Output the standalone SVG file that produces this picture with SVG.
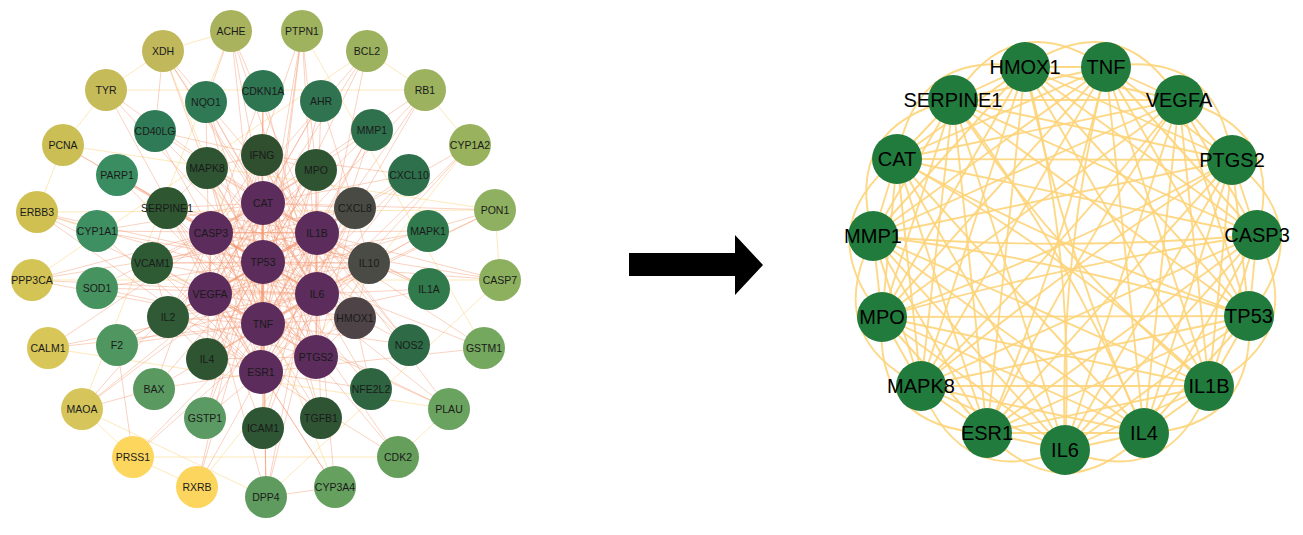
<svg xmlns="http://www.w3.org/2000/svg" width="1303" height="535" viewBox="0 0 1303 535">
<style>
.e{stroke:#f59c76;stroke-opacity:.45;stroke-width:1;fill:none}
.y{stroke:#fcd98c;stroke-opacity:.6;stroke-width:1;fill:none}
.r{stroke:#fdd47a;stroke-opacity:.9;stroke-width:1.9;fill:none}
.lt{font-family:"Liberation Sans",Arial,sans-serif;font-size:10.5px;fill:#1a1a1a;text-anchor:middle}
.rt{font-family:"Liberation Sans",Arial,sans-serif;font-size:20px;fill:#000;text-anchor:middle}
.rn{fill:#217b3d}
.pu{fill:#5b2c5c}
.dg{fill:#2f5432}
</style>
<rect width="1303" height="535" fill="#fff"/>
<g id="connectors-left">
<path class="y" d="M163 51L231 31"/><path class="y" d="M163 51L106 90"/><path class="y" d="M106 90L63 145"/><path class="y" d="M63 145L37 212"/><path class="y" d="M367 51L425 90"/><path class="y" d="M425 90L470 145"/><path class="y" d="M495 210L500 280"/><path class="y" d="M37 212L97 231"/><path class="y" d="M82 409L133 457"/><path class="y" d="M133 457L197 487"/><path class="y" d="M398 457L449 409"/><path class="y" d="M82 409L266 497"/><path class="y" d="M63 145L495 210"/><path class="y" d="M37 212L495 210"/><path class="y" d="M32 280L500 280"/><path class="y" d="M106 90L425 90"/><path class="y" d="M48 348L449 409"/><path class="y" d="M133 457L398 457"/><path class="y" d="M197 487L470 145"/><path class="y" d="M302 31L484 348"/><path class="y" d="M231 31L82 409"/><path class="y" d="M367 51L32 280"/><path class="y" d="M163 51L335 487"/><path class="y" d="M500 280L266 497"/>
<path class="e" d="M263 203L317 233"/><path class="e" d="M263 203L317 294"/><path class="e" d="M263 203L263 324"/><path class="e" d="M263 203L210 294"/><path class="e" d="M263 203L211 233"/><path class="e" d="M263 203L263 262"/><path class="e" d="M263 203L316 357"/><path class="e" d="M263 203L261 372"/>
<path class="e" d="M317 233L317 294"/><path class="e" d="M317 233L263 324"/><path class="e" d="M317 233L210 294"/><path class="e" d="M317 233L211 233"/><path class="e" d="M317 233L263 262"/><path class="e" d="M317 233L316 357"/><path class="e" d="M317 233L261 372"/>
<path class="e" d="M317 294L263 324"/><path class="e" d="M317 294L210 294"/><path class="e" d="M317 294L211 233"/><path class="e" d="M317 294L263 262"/><path class="e" d="M317 294L316 357"/><path class="e" d="M317 294L261 372"/>
<path class="e" d="M263 324L210 294"/><path class="e" d="M263 324L211 233"/><path class="e" d="M263 324L263 262"/><path class="e" d="M263 324L316 357"/><path class="e" d="M263 324L261 372"/>
<path class="e" d="M210 294L211 233"/><path class="e" d="M210 294L263 262"/><path class="e" d="M210 294L316 357"/><path class="e" d="M210 294L261 372"/>
<path class="e" d="M211 233L263 262"/><path class="e" d="M211 233L316 357"/><path class="e" d="M211 233L261 372"/><path class="e" d="M263 262L316 357"/><path class="e" d="M263 262L261 372"/><path class="e" d="M316 357L261 372"/>
<path class="e" d="M262 155L317 233"/><path class="e" d="M262 155L317 294"/><path class="e" d="M262 155L263 324"/><path class="e" d="M262 155L210 294"/><path class="e" d="M262 155L211 233"/><path class="e" d="M262 155L316 357"/><path class="e" d="M262 155L261 372"/>
<path class="e" d="M316 170L263 203"/><path class="e" d="M316 170L317 294"/><path class="e" d="M316 170L263 324"/><path class="e" d="M316 170L210 294"/><path class="e" d="M316 170L211 233"/><path class="e" d="M316 170L263 262"/><path class="e" d="M316 170L316 357"/><path class="e" d="M316 170L261 372"/>
<path class="e" d="M355 208L263 203"/><path class="e" d="M355 208L317 294"/><path class="e" d="M355 208L263 324"/><path class="e" d="M355 208L210 294"/><path class="e" d="M355 208L211 233"/><path class="e" d="M355 208L263 262"/><path class="e" d="M355 208L316 357"/><path class="e" d="M355 208L261 372"/>
<path class="e" d="M369 263L263 203"/><path class="e" d="M369 263L317 233"/><path class="e" d="M369 263L263 324"/><path class="e" d="M369 263L210 294"/><path class="e" d="M369 263L211 233"/><path class="e" d="M369 263L263 262"/><path class="e" d="M369 263L316 357"/><path class="e" d="M369 263L261 372"/>
<path class="e" d="M355 318L263 203"/><path class="e" d="M355 318L317 233"/><path class="e" d="M355 318L263 324"/><path class="e" d="M355 318L210 294"/><path class="e" d="M355 318L211 233"/><path class="e" d="M355 318L263 262"/><path class="e" d="M355 318L261 372"/>
<path class="e" d="M207 359L263 203"/><path class="e" d="M207 359L317 233"/><path class="e" d="M207 359L317 294"/><path class="e" d="M207 359L263 324"/><path class="e" d="M207 359L211 233"/><path class="e" d="M207 359L263 262"/><path class="e" d="M207 359L316 357"/>
<path class="e" d="M168 317L263 203"/><path class="e" d="M168 317L317 233"/><path class="e" d="M168 317L317 294"/><path class="e" d="M168 317L263 324"/><path class="e" d="M168 317L211 233"/><path class="e" d="M168 317L263 262"/><path class="e" d="M168 317L316 357"/><path class="e" d="M168 317L261 372"/>
<path class="e" d="M152 263L263 203"/><path class="e" d="M152 263L317 233"/><path class="e" d="M152 263L317 294"/><path class="e" d="M152 263L263 324"/><path class="e" d="M152 263L263 262"/><path class="e" d="M152 263L316 357"/><path class="e" d="M152 263L261 372"/>
<path class="e" d="M167 208L263 203"/><path class="e" d="M167 208L317 233"/><path class="e" d="M167 208L317 294"/><path class="e" d="M167 208L263 324"/><path class="e" d="M167 208L210 294"/><path class="e" d="M167 208L263 262"/><path class="e" d="M167 208L316 357"/><path class="e" d="M167 208L261 372"/>
<path class="e" d="M207 168L263 203"/><path class="e" d="M207 168L317 233"/><path class="e" d="M207 168L317 294"/><path class="e" d="M207 168L263 324"/><path class="e" d="M207 168L210 294"/><path class="e" d="M207 168L263 262"/><path class="e" d="M207 168L316 357"/><path class="e" d="M207 168L261 372"/>
<path class="e" d="M262 155L316 170"/><path class="e" d="M316 170L355 208"/><path class="e" d="M355 208L369 263"/><path class="e" d="M369 263L355 318"/><path class="e" d="M355 318L316 357"/><path class="e" d="M261 372L207 359"/><path class="e" d="M207 359L168 317"/><path class="e" d="M168 317L152 263"/><path class="e" d="M152 263L167 208"/><path class="e" d="M167 208L207 168"/><path class="e" d="M207 168L262 155"/><path class="e" d="M262 155L207 359"/><path class="e" d="M316 170L168 317"/><path class="e" d="M355 208L152 263"/><path class="e" d="M369 263L167 208"/><path class="e" d="M355 318L207 168"/><path class="e" d="M262 155L355 318"/><path class="e" d="M316 170L207 359"/><path class="e" d="M355 208L168 317"/><path class="e" d="M152 263L369 263"/>
<path class="e" d="M263 91L263 262"/><path class="e" d="M263 91L211 233"/><path class="e" d="M263 91L262 155"/><path class="e" d="M263 91L261 372"/><path class="e" d="M263 91L317 294"/>
<path class="e" d="M321 101L263 203"/><path class="e" d="M321 101L317 233"/><path class="e" d="M321 101L263 324"/><path class="e" d="M321 101L355 208"/><path class="e" d="M321 101L210 294"/>
<path class="e" d="M372 130L317 233"/><path class="e" d="M372 130L317 294"/><path class="e" d="M372 130L263 203"/><path class="e" d="M372 130L263 324"/><path class="e" d="M372 130L210 294"/>
<path class="e" d="M409 175L317 233"/><path class="e" d="M409 175L263 324"/><path class="e" d="M409 175L317 294"/><path class="e" d="M409 175L263 203"/><path class="e" d="M409 175L262 155"/>
<path class="e" d="M428 231L263 262"/><path class="e" d="M428 231L317 294"/><path class="e" d="M428 231L211 233"/><path class="e" d="M428 231L263 324"/>
<path class="e" d="M429 289L317 233"/><path class="e" d="M429 289L263 324"/><path class="e" d="M429 289L317 294"/><path class="e" d="M429 289L263 203"/><path class="e" d="M429 289L369 263"/>
<path class="e" d="M409 345L263 324"/><path class="e" d="M409 345L317 233"/><path class="e" d="M409 345L317 294"/><path class="e" d="M409 345L263 203"/><path class="e" d="M409 345L262 155"/>
<path class="e" d="M371 389L355 318"/><path class="e" d="M371 389L263 203"/><path class="e" d="M371 389L263 262"/><path class="e" d="M371 389L261 372"/>
<path class="e" d="M321 418L263 324"/><path class="e" d="M321 418L317 294"/><path class="e" d="M321 418L210 294"/><path class="e" d="M321 418L263 262"/><path class="e" d="M321 418L263 203"/>
<path class="e" d="M263 428L263 324"/><path class="e" d="M263 428L317 233"/><path class="e" d="M263 428L317 294"/><path class="e" d="M263 428L210 294"/><path class="e" d="M263 428L263 203"/>
<path class="e" d="M205 418L263 262"/><path class="e" d="M205 418L263 203"/><path class="e" d="M205 418L317 233"/><path class="e" d="M205 418L261 372"/>
<path class="e" d="M154 389L263 262"/><path class="e" d="M154 389L211 233"/><path class="e" d="M154 389L317 294"/><path class="e" d="M154 389L261 372"/>
<path class="e" d="M117 345L263 324"/><path class="e" d="M117 345L317 294"/><path class="e" d="M117 345L210 294"/><path class="e" d="M117 345L317 233"/>
<path class="e" d="M97 288L263 203"/><path class="e" d="M97 288L263 324"/><path class="e" d="M97 288L263 262"/><path class="e" d="M97 288L317 294"/>
<path class="e" d="M97 231L263 262"/><path class="e" d="M97 231L317 233"/><path class="e" d="M97 231L263 203"/><path class="e" d="M97 231L261 372"/>
<path class="e" d="M117 175L263 262"/><path class="e" d="M117 175L211 233"/><path class="e" d="M117 175L263 324"/><path class="e" d="M117 175L317 294"/>
<path class="e" d="M155 131L263 324"/><path class="e" d="M155 131L317 294"/><path class="e" d="M155 131L317 233"/><path class="e" d="M155 131L262 155"/>
<path class="e" d="M206 102L263 262"/><path class="e" d="M206 102L263 203"/><path class="e" d="M206 102L317 294"/><path class="e" d="M206 102L263 324"/><path class="e" d="M206 102L207 168"/>
<path class="e" d="M231 31L263 324"/><path class="e" d="M231 31L317 294"/><path class="e" d="M231 31L263 203"/><path class="e" d="M231 31L317 233"/><path class="e" d="M231 31L206 102"/>
<path class="e" d="M302 31L263 324"/><path class="e" d="M302 31L263 262"/><path class="e" d="M302 31L317 294"/><path class="e" d="M302 31L210 294"/><path class="e" d="M302 31L261 372"/><path class="e" d="M302 31L316 170"/>
<path class="e" d="M367 51L263 262"/><path class="e" d="M367 51L211 233"/><path class="e" d="M367 51L317 294"/><path class="e" d="M367 51L210 294"/>
<path class="e" d="M425 90L263 262"/><path class="e" d="M425 90L261 372"/><path class="e" d="M425 90L211 233"/><path class="e" d="M425 90L263 324"/>
<path class="e" d="M470 145L261 372"/><path class="e" d="M470 145L263 262"/><path class="e" d="M470 145L317 294"/>
<path class="e" d="M495 210L263 203"/><path class="e" d="M495 210L317 294"/><path class="e" d="M495 210L263 324"/><path class="e" d="M495 210L210 294"/>
<path class="e" d="M500 280L211 233"/><path class="e" d="M500 280L263 262"/><path class="e" d="M500 280L317 233"/>
<path class="e" d="M484 348L263 262"/><path class="e" d="M484 348L263 203"/><path class="e" d="M484 348L261 372"/>
<path class="e" d="M449 409L263 324"/><path class="e" d="M449 409L210 294"/><path class="e" d="M449 409L317 233"/><path class="e" d="M449 409L263 262"/>
<path class="e" d="M398 457L263 262"/><path class="e" d="M398 457L261 372"/><path class="e" d="M398 457L211 233"/>
<path class="e" d="M335 487L261 372"/><path class="e" d="M335 487L210 294"/><path class="e" d="M335 487L317 294"/>
<path class="e" d="M266 497L263 324"/><path class="e" d="M266 497L317 294"/><path class="e" d="M266 497L263 203"/><path class="e" d="M266 497L317 233"/><path class="e" d="M266 497L210 294"/><path class="e" d="M266 497L263 262"/><path class="e" d="M266 497L335 487"/>
<path class="e" d="M197 487L261 372"/><path class="e" d="M197 487L263 262"/><path class="e" d="M197 487L263 203"/>
<path class="e" d="M133 457L317 294"/><path class="e" d="M133 457L263 324"/><path class="e" d="M133 457L117 345"/>
<path class="e" d="M82 409L263 262"/><path class="e" d="M82 409L263 203"/><path class="e" d="M82 409L317 233"/><path class="e" d="M82 409L154 389"/>
<path class="e" d="M48 348L263 324"/><path class="e" d="M48 348L317 294"/><path class="e" d="M48 348L263 203"/>
<path class="e" d="M32 280L263 324"/><path class="e" d="M32 280L317 294"/><path class="e" d="M32 280L317 233"/><path class="e" d="M32 280L211 233"/>
<path class="e" d="M37 212L263 262"/><path class="e" d="M37 212L261 372"/><path class="e" d="M37 212L263 324"/><path class="e" d="M37 212L317 294"/>
<path class="e" d="M63 145L263 262"/><path class="e" d="M63 145L211 233"/>
<path class="e" d="M106 90L263 262"/><path class="e" d="M106 90L263 203"/><path class="e" d="M106 90L261 372"/>
<path class="e" d="M163 51L263 203"/><path class="e" d="M163 51L263 324"/><path class="e" d="M163 51L317 294"/><path class="e" d="M163 51L317 233"/><path class="e" d="M163 51L155 131"/>
</g>
<g id="nodes-left">
<g id="n-ACHE"><circle cx="231" cy="31" r="21" fill="#a9b35e"/><text class="lt" x="231" y="34.8">ACHE</text></g>
<g id="n-PTPN1"><circle cx="302" cy="31" r="21" fill="#9fb25e"/><text class="lt" x="302" y="34.8">PTPN1</text></g>
<g id="n-BCL2"><circle cx="367" cy="51" r="21" fill="#9db25e"/><text class="lt" x="367" y="54.8">BCL2</text></g>
<g id="n-RB1"><circle cx="425" cy="90" r="21" fill="#9cb25e"/><text class="lt" x="425" y="93.8">RB1</text></g>
<g id="n-CYP1A2"><circle cx="470" cy="145" r="21" fill="#98b25e"/><text class="lt" x="470" y="148.8">CYP1A2</text></g>
<g id="n-PON1"><circle cx="495" cy="210" r="21" fill="#8fb060"/><text class="lt" x="495" y="213.8">PON1</text></g>
<g id="n-CASP7"><circle cx="500" cy="280" r="21" fill="#8cb05e"/><text class="lt" x="500" y="283.8">CASP7</text></g>
<g id="n-GSTM1"><circle cx="484" cy="348" r="21" fill="#74a85e"/><text class="lt" x="484" y="351.8">GSTM1</text></g>
<g id="n-PLAU"><circle cx="449" cy="409" r="21" fill="#6aa25f"/><text class="lt" x="449" y="412.8">PLAU</text></g>
<g id="n-CDK2"><circle cx="398" cy="457" r="21" fill="#669e5c"/><text class="lt" x="398" y="460.8">CDK2</text></g>
<g id="n-CYP3A4"><circle cx="335" cy="487" r="21" fill="#66a05f"/><text class="lt" x="335" y="490.8">CYP3A4</text></g>
<g id="n-DPP4"><circle cx="266" cy="497" r="21" fill="#5f9a5f"/><text class="lt" x="266" y="500.8">DPP4</text></g>
<g id="n-RXRB"><circle cx="197" cy="487" r="21" fill="#fcd55e"/><text class="lt" x="197" y="490.8">RXRB</text></g>
<g id="n-PRSS1"><circle cx="133" cy="457" r="21" fill="#fdd65e"/><text class="lt" x="133" y="460.8">PRSS1</text></g>
<g id="n-MAOA"><circle cx="82" cy="409" r="21" fill="#d6c55a"/><text class="lt" x="82" y="412.8">MAOA</text></g>
<g id="n-CALM1"><circle cx="48" cy="348" r="21" fill="#d8c658"/><text class="lt" x="48" y="351.8">CALM1</text></g>
<g id="n-PPP3CA"><circle cx="32" cy="280" r="21" fill="#d4c355"/><text class="lt" x="32" y="283.8">PPP3CA</text></g>
<g id="n-ERBB3"><circle cx="37" cy="212" r="21" fill="#d0c052"/><text class="lt" x="37" y="215.8">ERBB3</text></g>
<g id="n-PCNA"><circle cx="63" cy="145" r="21" fill="#cbbe55"/><text class="lt" x="63" y="148.8">PCNA</text></g>
<g id="n-TYR"><circle cx="106" cy="90" r="21" fill="#c5bb58"/><text class="lt" x="106" y="93.8">TYR</text></g>
<g id="n-XDH"><circle cx="163" cy="51" r="21" fill="#c0b85a"/><text class="lt" x="163" y="54.8">XDH</text></g>
<g id="n-CDKN1A"><circle cx="263" cy="91" r="21" fill="#2e7552"/><text class="lt" x="263" y="94.8">CDKN1A</text></g>
<g id="n-AHR"><circle cx="321" cy="101" r="21" fill="#2f7350"/><text class="lt" x="321" y="104.8">AHR</text></g>
<g id="n-MMP1"><circle cx="372" cy="130" r="21" fill="#2f704d"/><text class="lt" x="372" y="133.8">MMP1</text></g>
<g id="n-CXCL10"><circle cx="409" cy="175" r="21" fill="#2e704c"/><text class="lt" x="409" y="178.8">CXCL10</text></g>
<g id="n-MAPK1"><circle cx="428" cy="231" r="21" fill="#307a4e"/><text class="lt" x="428" y="234.8">MAPK1</text></g>
<g id="n-IL1A"><circle cx="429" cy="289" r="21" fill="#317a4c"/><text class="lt" x="429" y="292.8">IL1A</text></g>
<g id="n-NOS2"><circle cx="409" cy="345" r="21" fill="#2d6a45"/><text class="lt" x="409" y="348.8">NOS2</text></g>
<g id="n-NFE2L2"><circle cx="371" cy="389" r="21" fill="#2e6440"/><text class="lt" x="371" y="392.8">NFE2L2</text></g>
<g id="n-TGFB1"><circle cx="321" cy="418" r="21" fill="#2e5434"/><text class="lt" x="321" y="421.8">TGFB1</text></g>
<g id="n-ICAM1"><circle cx="263" cy="428" r="21" fill="#2e5634"/><text class="lt" x="263" y="431.8">ICAM1</text></g>
<g id="n-GSTP1"><circle cx="205" cy="418" r="21" fill="#5b9a62"/><text class="lt" x="205" y="421.8">GSTP1</text></g>
<g id="n-BAX"><circle cx="154" cy="389" r="21" fill="#5a9a60"/><text class="lt" x="154" y="392.8">BAX</text></g>
<g id="n-F2"><circle cx="117" cy="345" r="21" fill="#4f9660"/><text class="lt" x="117" y="348.8">F2</text></g>
<g id="n-SOD1"><circle cx="97" cy="288" r="21" fill="#47935f"/><text class="lt" x="97" y="291.8">SOD1</text></g>
<g id="n-CYP1A1"><circle cx="97" cy="231" r="21" fill="#3e8f62"/><text class="lt" x="97" y="234.8">CYP1A1</text></g>
<g id="n-PARP1"><circle cx="117" cy="175" r="21" fill="#3a8d60"/><text class="lt" x="117" y="178.8">PARP1</text></g>
<g id="n-CD40LG"><circle cx="155" cy="131" r="21" fill="#2f7a57"/><text class="lt" x="155" y="134.8">CD40LG</text></g>
<g id="n-NQO1"><circle cx="206" cy="102" r="21" fill="#2f7a55"/><text class="lt" x="206" y="105.8">NQO1</text></g>
<g id="n-IFNG"><circle cx="262" cy="155" r="21" fill="#2f4f2f"/><text class="lt" x="262" y="158.8">IFNG</text></g>
<g id="n-MPO"><circle cx="316" cy="170" r="21" class="dg"/><text class="lt" x="316" y="173.8">MPO</text></g>
<g id="n-CXCL8"><circle cx="355" cy="208" r="21" fill="#4a4a44"/><text class="lt" x="355" y="211.8">CXCL8</text></g>
<g id="n-IL10"><circle cx="369" cy="263" r="21" fill="#4b4b45"/><text class="lt" x="369" y="266.8">IL10</text></g>
<g id="n-HMOX1"><circle cx="355" cy="318" r="21" fill="#4e4448"/><text class="lt" x="355" y="321.8">HMOX1</text></g>
<g id="n-IL4"><circle cx="207" cy="359" r="21" class="dg"/><text class="lt" x="207" y="362.8">IL4</text></g>
<g id="n-IL2"><circle cx="168" cy="317" r="21" fill="#2f5a35"/><text class="lt" x="168" y="320.8">IL2</text></g>
<g id="n-VCAM1"><circle cx="152" cy="263" r="21" fill="#2e5a34"/><text class="lt" x="152" y="266.8">VCAM1</text></g>
<g id="n-SERPINE1"><circle cx="167" cy="208" r="21" fill="#2e5631"/><text class="lt" x="167" y="211.8">SERPINE1</text></g>
<g id="n-MAPK8"><circle cx="207" cy="168" r="21" class="dg"/><text class="lt" x="207" y="171.8">MAPK8</text></g>
<g id="n-CAT"><circle cx="263" cy="203" r="22" class="pu"/><text class="lt" x="263" y="206.8">CAT</text></g>
<g id="n-IL1B"><circle cx="317" cy="233" r="22" class="pu"/><text class="lt" x="317" y="236.8">IL1B</text></g>
<g id="n-IL6"><circle cx="317" cy="294" r="22" class="pu"/><text class="lt" x="317" y="297.8">IL6</text></g>
<g id="n-TNF"><circle cx="263" cy="324" r="22" class="pu"/><text class="lt" x="263" y="327.8">TNF</text></g>
<g id="n-VEGFA"><circle cx="210" cy="294" r="22" class="pu"/><text class="lt" x="210" y="297.8">VEGFA</text></g>
<g id="n-CASP3"><circle cx="211" cy="233" r="22" class="pu"/><text class="lt" x="211" y="236.8">CASP3</text></g>
<g id="n-TP53"><circle cx="263" cy="262" r="22" class="pu"/><text class="lt" x="263" y="265.8">TP53</text></g>
<g id="n-PTGS2"><circle cx="316" cy="357" r="22" class="pu"/><text class="lt" x="316" y="360.8">PTGS2</text></g>
<g id="n-ESR1"><circle cx="261" cy="372" r="22" class="pu"/><text class="lt" x="261" y="375.8">ESR1</text></g>
</g>
<g id="arrow"><polygon points="629,253 735,253 735,235 763,265 735,295 735,276 629,276" fill="#000"/></g>
<g id="connectors-right">
<path class="r" d="M953 100Q1012 4 1106 67"/><path class="r" d="M1025 67Q1120 4 1179 100"/><path class="r" d="M1106 67Q1217 48 1232 160"/><path class="r" d="M1179 100Q1287 128 1257 235"/><path class="r" d="M1232 160Q1320 227 1249 316"/><path class="r" d="M1257 235Q1310 335 1209 386"/><path class="r" d="M1249 316Q1256 428 1144 433"/><path class="r" d="M1209 386Q1170 491 1065 450"/><path class="r" d="M1144 433Q1065 513 987 433"/><path class="r" d="M1065 450Q961 491 921 386"/><path class="r" d="M987 433Q873 428 882 317"/><path class="r" d="M921 386Q822 337 873 236"/><path class="r" d="M882 317Q810 229 897 159"/><path class="r" d="M873 236Q842 126 953 100"/><path class="r" d="M897 159Q916 48 1025 67"/>
<path class="r" d="M1025 67L1106 67"/><path class="r" d="M1025 67L1179 100"/><path class="r" d="M1025 67L1232 160"/><path class="r" d="M1025 67L1257 235"/><path class="r" d="M1025 67L1249 316"/><path class="r" d="M1025 67L1209 386"/><path class="r" d="M1025 67Q1065 258 1144 433"/><path class="r" d="M1025 67Q1075 250 1065 450"/><path class="r" d="M1025 67L987 433"/><path class="r" d="M1025 67L921 386"/><path class="r" d="M1025 67L882 317"/><path class="r" d="M1025 67L873 236"/><path class="r" d="M1025 67L897 159"/><path class="r" d="M1025 67L953 100"/>
<path class="r" d="M1106 67L1179 100"/><path class="r" d="M1106 67L1232 160"/><path class="r" d="M1106 67L1257 235"/><path class="r" d="M1106 67L1249 316"/><path class="r" d="M1106 67L1209 386"/><path class="r" d="M1106 67L1144 433"/><path class="r" d="M1106 67Q1058 262 1065 450"/><path class="r" d="M1106 67Q1062 255 987 433"/><path class="r" d="M1106 67L921 386"/><path class="r" d="M1106 67L882 317"/><path class="r" d="M1106 67L873 236"/><path class="r" d="M1106 67L897 159"/><path class="r" d="M1106 67L953 100"/>
<path class="r" d="M1179 100L1232 160"/><path class="r" d="M1179 100L1257 235"/><path class="r" d="M1179 100L1249 316"/><path class="r" d="M1179 100L1209 386"/><path class="r" d="M1179 100L1144 433"/><path class="r" d="M1179 100L1065 450"/><path class="r" d="M1179 100Q1070 262 987 433"/><path class="r" d="M1179 100Q1060 250 921 386"/><path class="r" d="M1179 100L882 317"/><path class="r" d="M1179 100L873 236"/><path class="r" d="M1179 100L897 159"/><path class="r" d="M1179 100L953 100"/>
<path class="r" d="M1232 160L1257 235"/><path class="r" d="M1232 160L1249 316"/><path class="r" d="M1232 160L1209 386"/><path class="r" d="M1232 160L1144 433"/><path class="r" d="M1232 160L1065 450"/><path class="r" d="M1232 160L987 433"/><path class="r" d="M1232 160Q1068 266 921 386"/><path class="r" d="M1232 160Q1058 255 882 317"/><path class="r" d="M1232 160L873 236"/><path class="r" d="M1232 160L897 159"/><path class="r" d="M1232 160L953 100"/>
<path class="r" d="M1257 235L1249 316"/><path class="r" d="M1257 235L1209 386"/><path class="r" d="M1257 235L1144 433"/><path class="r" d="M1257 235L1065 450"/><path class="r" d="M1257 235L987 433"/><path class="r" d="M1257 235L921 386"/><path class="r" d="M1257 235Q1062 265 882 317"/><path class="r" d="M1257 235Q1060 252 873 236"/><path class="r" d="M1257 235L897 159"/><path class="r" d="M1257 235L953 100"/>
<path class="r" d="M1249 316L1209 386"/><path class="r" d="M1249 316L1144 433"/><path class="r" d="M1249 316L1065 450"/><path class="r" d="M1249 316L987 433"/><path class="r" d="M1249 316L921 386"/><path class="r" d="M1249 316L882 317"/><path class="r" d="M1249 316Q1068 260 873 236"/><path class="r" d="M1249 316Q1060 250 897 159"/><path class="r" d="M1249 316L953 100"/>
<path class="r" d="M1209 386L1144 433"/><path class="r" d="M1209 386L1065 450"/><path class="r" d="M1209 386L987 433"/><path class="r" d="M1209 386L921 386"/><path class="r" d="M1209 386L882 317"/><path class="r" d="M1209 386L873 236"/><path class="r" d="M1209 386Q1072 256 897 159"/><path class="r" d="M1209 386Q1058 262 953 100"/>
<path class="r" d="M1144 433L1065 450"/><path class="r" d="M1144 433L987 433"/><path class="r" d="M1144 433L921 386"/><path class="r" d="M1144 433L882 317"/><path class="r" d="M1144 433L873 236"/><path class="r" d="M1144 433L897 159"/><path class="r" d="M1144 433Q1070 252 953 100"/>
<path class="r" d="M1065 450L987 433"/><path class="r" d="M1065 450L921 386"/><path class="r" d="M1065 450L882 317"/><path class="r" d="M1065 450L873 236"/><path class="r" d="M1065 450L897 159"/><path class="r" d="M1065 450L953 100"/>
<path class="r" d="M987 433L921 386"/><path class="r" d="M987 433L882 317"/><path class="r" d="M987 433L873 236"/><path class="r" d="M987 433L897 159"/><path class="r" d="M987 433L953 100"/>
<path class="r" d="M921 386L882 317"/><path class="r" d="M921 386L873 236"/><path class="r" d="M921 386L897 159"/><path class="r" d="M921 386L953 100"/>
<path class="r" d="M882 317L873 236"/><path class="r" d="M882 317L897 159"/><path class="r" d="M882 317L953 100"/>
<path class="r" d="M873 236L897 159"/><path class="r" d="M873 236L953 100"/><path class="r" d="M897 159L953 100"/>
</g>
<g id="nodes-right">
<g id="r-HMOX1"><circle class="rn" cx="1025" cy="67" r="25"/><text class="rt" x="1025" y="74">HMOX1</text></g>
<g id="r-TNF"><circle class="rn" cx="1106" cy="67" r="25"/><text class="rt" x="1106" y="74">TNF</text></g>
<g id="r-VEGFA"><circle class="rn" cx="1179" cy="100" r="25"/><text class="rt" x="1179" y="107">VEGFA</text></g>
<g id="r-PTGS2"><circle class="rn" cx="1232" cy="160" r="25"/><text class="rt" x="1232" y="167">PTGS2</text></g>
<g id="r-CASP3"><circle class="rn" cx="1257" cy="235" r="25"/><text class="rt" x="1257" y="242">CASP3</text></g>
<g id="r-TP53"><circle class="rn" cx="1249" cy="316" r="25"/><text class="rt" x="1249" y="323">TP53</text></g>
<g id="r-IL1B"><circle class="rn" cx="1209" cy="386" r="25"/><text class="rt" x="1209" y="393">IL1B</text></g>
<g id="r-IL4"><circle class="rn" cx="1144" cy="433" r="25"/><text class="rt" x="1144" y="440">IL4</text></g>
<g id="r-IL6"><circle class="rn" cx="1065" cy="450" r="25"/><text class="rt" x="1065" y="457">IL6</text></g>
<g id="r-ESR1"><circle class="rn" cx="987" cy="433" r="25"/><text class="rt" x="987" y="440">ESR1</text></g>
<g id="r-MAPK8"><circle class="rn" cx="921" cy="386" r="25"/><text class="rt" x="921" y="393">MAPK8</text></g>
<g id="r-MPO"><circle class="rn" cx="882" cy="317" r="25"/><text class="rt" x="882" y="324">MPO</text></g>
<g id="r-MMP1"><circle class="rn" cx="873" cy="236" r="25"/><text class="rt" x="873" y="243">MMP1</text></g>
<g id="r-CAT"><circle class="rn" cx="897" cy="159" r="25"/><text class="rt" x="897" y="166">CAT</text></g>
<g id="r-SERPINE1"><circle class="rn" cx="953" cy="100" r="25"/><text class="rt" x="953" y="107">SERPINE1</text></g>
</g>
</svg>
